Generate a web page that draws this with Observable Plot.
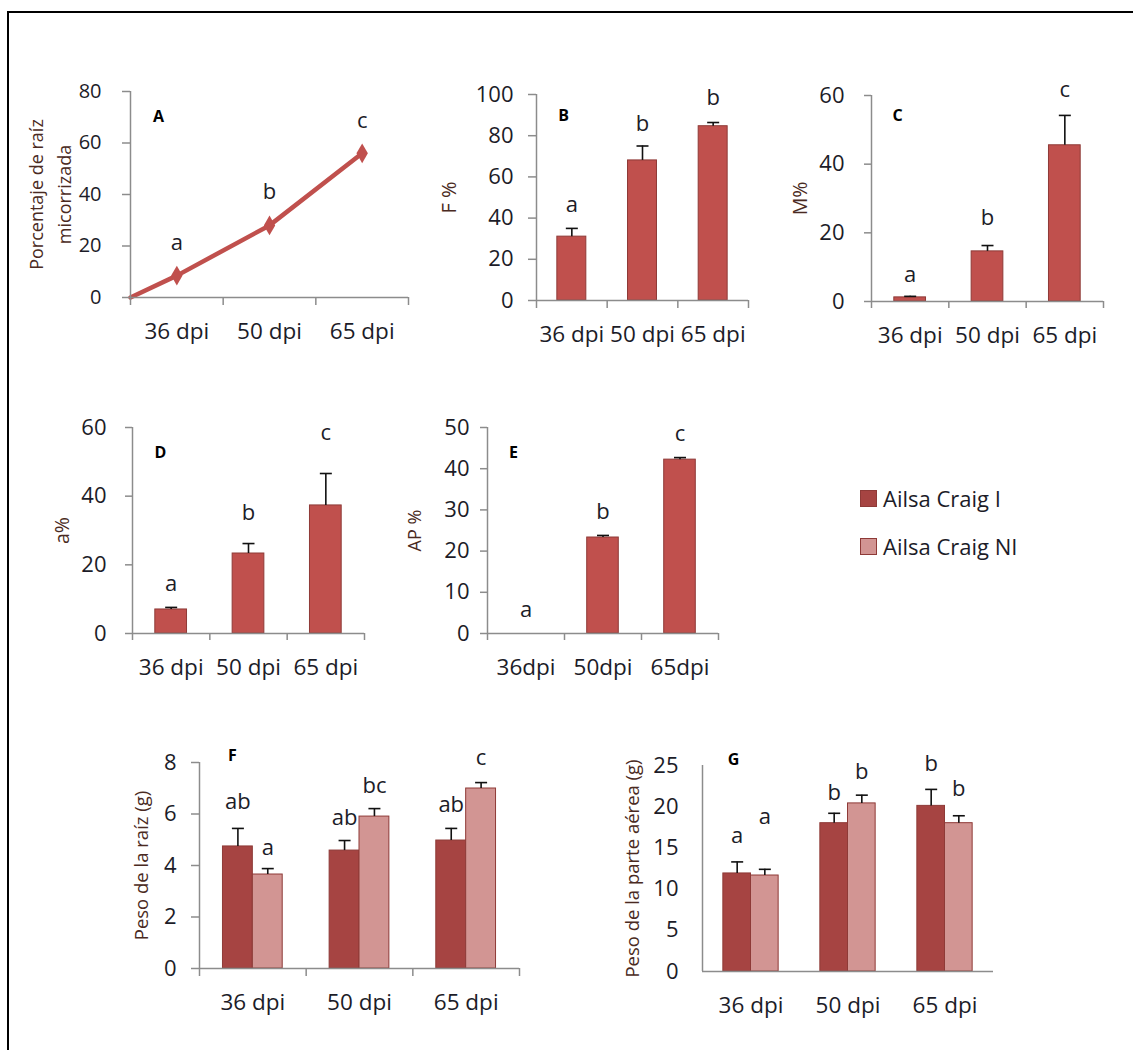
<!DOCTYPE html>
<html><head><meta charset="utf-8">
<script src="https://cdn.jsdelivr.net/npm/d3@7"></script>
<script src="https://cdn.jsdelivr.net/npm/@observablehq/plot@0.6"></script>
<style>
html,body{margin:0;padding:0;background:#fff;}
#fig{position:relative;width:1133px;height:1050px;overflow:hidden;font-family:"Open Sans",sans-serif;}
#frame{position:absolute;left:7px;top:11px;right:-10px;bottom:-10px;border-top:2px solid #000;border-left:2px solid #000;}
#fig svg{position:absolute;overflow:visible;}
#legend{position:absolute;left:860px;top:486px;font-size:22px;color:#1c1c28;}
.item{display:flex;align-items:center;height:24px;margin-bottom:24px;white-space:nowrap;}
.sw{width:15px;height:15px;margin-right:6px;box-sizing:content-box;}
</style></head><body><div id="fig"><div id="frame"></div></div>
<script>
// ---------- data ----------
const categories = ["36 dpi", "50 dpi", "65 dpi"];
const categoriesE = ["36dpi", "50dpi", "65dpi"];

// A: Porcentaje de raíz micorrizada (line)
const micorrizaStart = 0;
const micorrizaValues = [8.5, 28, 56];
const micorrizaLetters = ["a", "b", "c"];
const micorrizaLetterY = [21, 40.8, 68.7];

// B: F %
const fValues = [31, 68, 84.6];
const fErrors = [4, 7, 1.8];
const fLetters = ["a", "b", "b"];
const fLetterY = [46.6, 85.9, 98.5];

// C: M%
const mValues = [1.2, 14.6, 45.5];
const mErrors = [0.3, 1.7, 8.7];
const mLetters = ["a", "b", "c"];
const mLetterY = [7.6, 24.2, 61.5];

// D: a%
const aValues = [7.0, 23.3, 37.3];
const aErrors = [0.6, 2.9, 9.3];
const aLetters = ["a", "b", "c"];
const aLetterY = [14.3, 35, 58.3];

// E: AP %
const apValues = [0, 23.3, 42.2];
const apErrors = [0, 0.5, 0.5];
const apLetters = ["a", "b", "c"];
const apLetterY = [5.6, 29.4, 48.5];

// F: Peso de la raíz (g)
const seriesNames = ["Ailsa Craig I", "Ailsa Craig NI"];
const raizI = [4.74, 4.58, 4.97];
const raizIErr = [0.7, 0.39, 0.47];
const raizNI = [3.65, 5.9, 6.99];
const raizNIErr = [0.23, 0.31, 0.23];
const raizILetters = ["ab", "ab", "ab"];
const raizILetterY = [6.45, 5.83, 6.37];
const raizNILetters = ["a", "bc", "c"];
const raizNILetterY = [4.7, 7.07, 8.19];

// G: Peso de la parte aérea (g)
const aereaI = [11.9, 18.0, 20.1];
const aereaIErr = [1.4, 1.2, 2.0];
const aereaNI = [11.65, 20.4, 18.0];
const aereaNIErr = [0.75, 1.0, 0.9];
const aereaILetters = ["a", "b", "b"];
const aereaILetterY = [16.4, 21.7, 25.2];
const aereaNILetters = ["a", "b", "b"];
const aereaNILetterY = [18.7, 24.2, 22.1];

// ---------- styles ----------
const axisColor = "#8c8c8c";
const textColor = "#1c1c28";
const titleColor = "#4a2a22";
const singleFill = "#c0504d";
const seriesFills = ["#a64442", "#d29593"];
const barStroke = "#8e3a37";
const font = "'Open Sans', sans-serif";

const capSymbol = {draw(ctx, size) { const r = Math.sqrt(size / Math.PI); ctx.moveTo(-r, 0); ctx.lineTo(r, 0); }};

const fig = document.getElementById("fig");

function makePanel(p) {
  const ml = p.ml ?? 100, mr = 25, mt = 30, mb = 60;
  const n = p.cats.length;
  const marks = [];
  (p.series || []).forEach(s => {
    const rows = s.values.map((v, i) => ({
      i, v, e: s.errors[i], letter: s.letters[i], ly: s.letterY[i],
      x1: i + s.offset, x2: i + s.offset + s.width
    }));
    const eb = rows.filter(d => d.v > 0);
    marks.push(Plot.rect(eb, {x1: "x1", x2: "x2", y1: () => 0, y2: "v", fill: s.fill, stroke: barStroke, strokeWidth: 1}));
    marks.push(Plot.ruleX(eb, {x: d => (d.x1 + d.x2) / 2, y1: "v", y2: d => d.v + d.e, stroke: "#111", strokeWidth: 1.6}));
    marks.push(Plot.dot(eb, {x: d => (d.x1 + d.x2) / 2, y: d => d.v + d.e, symbol: capSymbol, r: 6, stroke: "#111", strokeWidth: 1.6, fill: "none"}));
    marks.push(Plot.text(rows, {x: d => (d.x1 + d.x2) / 2, y: "ly", text: "letter", fontSize: 22, fill: textColor, fontFamily: font}));
  });
  if (p.extra) marks.push(...p.extra);
  marks.push(Plot.ruleY([0], {stroke: axisColor, strokeWidth: 1.5}));
  marks.push(Plot.ruleX([0], {stroke: axisColor, strokeWidth: 1.5}));
  marks.push(Plot.axisY({ticks: d3.range(0, p.yMax + 1e-9, p.yStep), tickSize: p.tickSize, tickPadding: p.yPad, stroke: axisColor, strokeWidth: 1.5, fill: textColor, fontSize: p.yFont ?? 22, label: null}));
  marks.push(Plot.axisX({ticks: d3.range(0, n + 1), tickSize: p.tickSize, tickFormat: () => "", stroke: axisColor, strokeWidth: 1.5, label: null}));
  marks.push(Plot.axisX({ticks: p.cats.map((c, i) => i + 0.5), tickSize: 0, tickPadding: 26, tickFormat: d => p.cats[Math.floor(d)], fill: textColor, fontSize: 22.5, label: null}));
  marks.push(Plot.text([p.title], {text: d => d, frameAnchor: "left", textAnchor: "middle", lineAnchor: "middle", rotate: -90, dx: p.titleDx, fontSize: p.titleSize ?? 18.5, fill: titleColor, lineHeight: p.lineHeight ?? 1, fontFamily: font}));
  marks.push(Plot.text([p.tag], {text: d => d, frameAnchor: "top-left", textAnchor: "middle", lineAnchor: "middle", dx: p.tagDx, dy: p.tagDy, fontSize: 16, fontWeight: "bold", fill: "#000", fontFamily: font}));

  const svg = Plot.plot({
    width: ml + p.fw + mr,
    height: mt + p.fh + mb,
    marginLeft: ml, marginRight: mr, marginTop: mt, marginBottom: mb,
    x: {domain: [0, n]},
    y: {domain: [0, p.yMax]},
    style: {fontFamily: font, fontSize: (p.yFont ?? 22) + "px", background: "transparent", color: textColor, overflow: "visible"},
    marks
  });
  svg.style.left = (p.fx - ml) + "px";
  svg.style.top = (p.fy - mt) + "px";
  fig.appendChild(svg);
}

const singleW = 0.41;
function single(values, errors, letters, letterY) {
  return [{values, errors, letters, letterY, fill: singleFill, offset: 0.5 - singleW / 2, width: singleW}];
}
function paired(g, vI, eI, lI, yI, vN, eN, lN, yN) {
  return [
    {values: vI, errors: eI, letters: lI, letterY: yI, fill: seriesFills[0], offset: 0.5 - g / 2, width: g / 2},
    {values: vN, errors: eN, letters: lN, letterY: yN, fill: seriesFills[1], offset: 0.5, width: g / 2}
  ];
}

// A
const aPoints = [{x: 0, y: micorrizaStart}, ...micorrizaValues.map((v, i) => ({x: i + 0.5, y: v}))];
const aDots = micorrizaValues.map((v, i) => ({x: i + 0.5, y: v, letter: micorrizaLetters[i], ly: micorrizaLetterY[i]}));
makePanel({
  fx: 130, fy: 91, fw: 278, fh: 206, ml: 120, cats: categories, yMax: 80, yStep: 20, tickSize: 8, yPad: 21, yFont: 20,
  title: "Porcentaje de raíz\nmicorrizada", titleDx: -82, titleSize: 18, lineHeight: 1.55, tag: "A", tagDx: 28, tagDy: 25,
  extra: [
    Plot.line(aPoints, {x: "x", y: "y", stroke: singleFill, strokeWidth: 4.5}),
    Plot.dot(aDots, {x: "x", y: "y", symbol: "diamond", r: 6, fill: singleFill}),
    Plot.text(aDots, {x: "x", y: "ly", text: "letter", fontSize: 22, fill: textColor, fontFamily: font})
  ]
});
// B
makePanel({fx: 536, fy: 94, fw: 212, fh: 206, cats: categories, yMax: 100, yStep: 20, tickSize: 8, yPad: 15,
  title: "F %", titleDx: -87, titleSize: 20, tag: "B", tagDx: 27, tagDy: 21,
  series: single(fValues, fErrors, fLetters, fLetterY)});
// C
makePanel({fx: 871, fy: 95, fw: 232, fh: 206, cats: categories, yMax: 60, yStep: 20, tickSize: 7, yPad: 20,
  title: "M%", titleDx: -71, titleSize: 19.5, tag: "C", tagDx: 26, tagDy: 20,
  series: single(mValues, mErrors, mLetters, mLetterY)});
// D
makePanel({fx: 132, fy: 427, fw: 232, fh: 206, cats: categories, yMax: 60, yStep: 20, tickSize: 7, yPad: 19,
  title: "a%", titleDx: -70, titleSize: 19.5, tag: "D", tagDx: 28, tagDy: 25,
  series: single(aValues, aErrors, aLetters, aLetterY)});
// E
makePanel({fx: 487, fy: 427, fw: 231, fh: 206, cats: categoriesE, yMax: 50, yStep: 10, tickSize: 7, yPad: 11,
  title: "AP %", titleDx: -72, titleSize: 18, tag: "E", tagDx: 26, tagDy: 25,
  series: single(apValues, apErrors, apLetters, apLetterY)});
// F
makePanel({fx: 199, fy: 762, fw: 320, fh: 206, cats: categories, yMax: 8, yStep: 2, tickSize: 8, yPad: 15,
  title: "Peso de la raíz (g)", titleDx: -57, titleSize: 18.5, tag: "F", tagDx: 33, tagDy: -7,
  series: paired(0.56, raizI, raizIErr, raizILetters, raizILetterY, raizNI, raizNIErr, raizNILetters, raizNILetterY)});
// G
makePanel({fx: 702, fy: 765, fw: 291, fh: 206, cats: categories, yMax: 25, yStep: 5, tickSize: 0, yPad: 24,
  title: "Peso de la parte aérea (g)", titleDx: -69, titleSize: 18.5, tag: "G", tagDx: 31, tagDy: -6,
  series: paired(0.57, aereaI, aereaIErr, aereaILetters, aereaILetterY, aereaNI, aereaNIErr, aereaNILetters, aereaNILetterY)});

// legend
const legend = document.createElement("div");
legend.id = "legend";
seriesNames.forEach((name, i) => {
  const item = document.createElement("div");
  item.className = "item";
  const sw = document.createElement("span");
  sw.className = "sw";
  sw.style.background = seriesFills[i];
  sw.style.border = "1px solid " + barStroke;
  const t = document.createElement("span");
  t.textContent = name;
  item.appendChild(sw); item.appendChild(t);
  legend.appendChild(item);
});
fig.appendChild(legend);
</script></body></html>
